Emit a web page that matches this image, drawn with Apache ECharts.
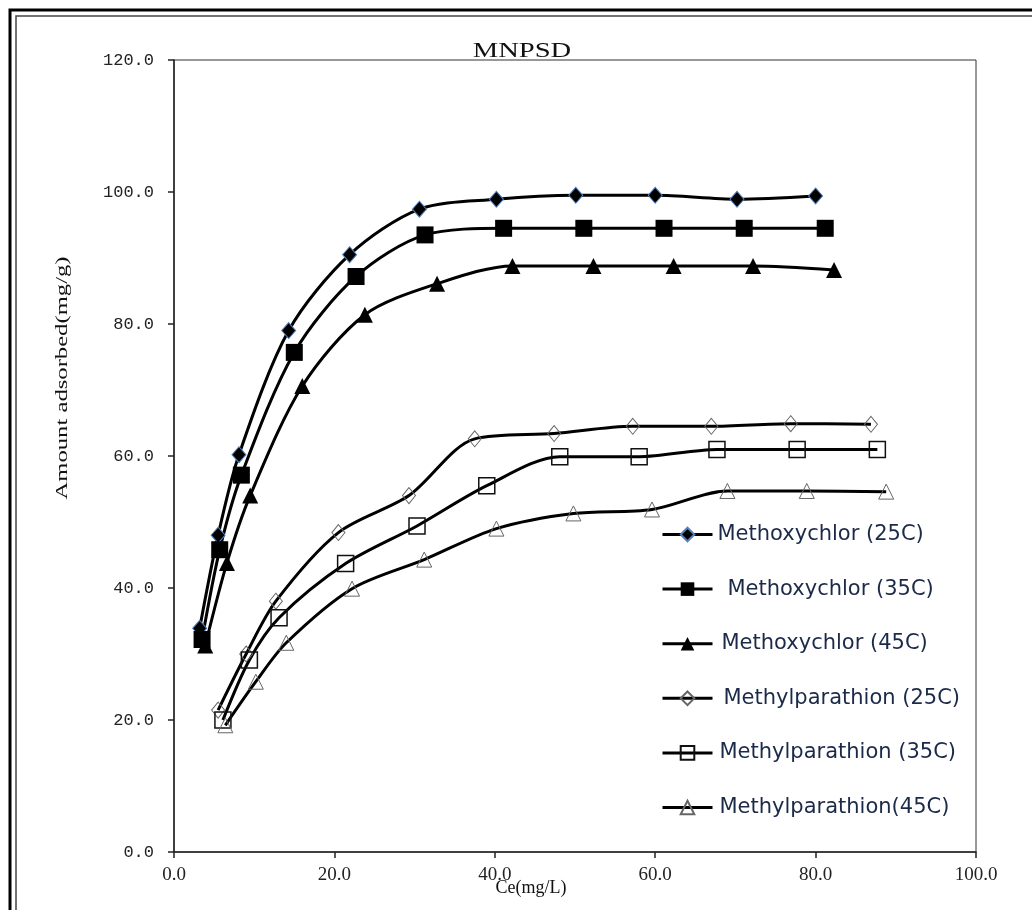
<!DOCTYPE html>
<html>
<head>
<meta charset="utf-8">
<script src="https://cdn.jsdelivr.net/npm/echarts@6/dist/echarts.min.js"></script>
<style>html,body{margin:0;padding:0;background:#fff}#c{width:1032px;height:910px}</style>
</head>
<body>
<div id="c"></div>
<script>
// ---- data (Ce mg/L, amount adsorbed mg/g) ----
const seriesNames = [
  'Methoxychlor (25C)', 'Methoxychlor (35C)', 'Methoxychlor (45C)',
  'Methylparathion (25C)', 'Methylparathion (35C)', 'Methylparathion(45C)'
];
const mx25x = [3.2, 5.5, 8.1, 14.3, 21.9, 30.6, 40.2, 50.1, 60.0, 70.2, 80.0];
const mx25y = [33.9, 48.0, 60.2, 79.0, 90.5, 97.4, 98.9, 99.5, 99.5, 98.9, 99.4];
const mx35x = [3.5, 5.7, 8.4, 15.0, 22.7, 31.3, 41.1, 51.1, 61.1, 71.1, 81.2];
const mx35y = [32.2, 45.8, 57.1, 75.7, 87.2, 93.5, 94.5, 94.5, 94.5, 94.5, 94.5];
const mx45x = [3.9, 6.6, 9.5, 16.0, 23.8, 32.8, 42.2, 52.3, 62.3, 72.2, 82.3];
const mx45y = [31.3, 43.8, 54.0, 70.6, 81.4, 86.1, 88.8, 88.8, 88.8, 88.8, 88.2];
const mp25x = [5.5, 9.0, 12.7, 20.5, 29.3, 37.5, 47.4, 57.2, 67.0, 76.9, 86.9];
const mp25y = [21.5, 30.0, 38.0, 48.4, 54.0, 62.6, 63.4, 64.5, 64.5, 64.9, 64.8];
const mp35x = [6.1, 9.4, 13.1, 21.4, 30.3, 39.0, 48.1, 58.0, 67.7, 77.7, 87.7];
const mp35y = [20.0, 29.1, 35.5, 43.7, 49.4, 55.5, 59.9, 59.9, 61.0, 61.0, 61.0];
const mp45x = [6.4, 10.2, 14.0, 22.2, 31.2, 40.2, 49.8, 59.6, 69.0, 78.9, 88.8];
const mp45y = [19.2, 25.8, 31.7, 39.9, 44.3, 49.0, 51.3, 51.9, 54.7, 54.7, 54.6];
const titleText = 'MNPSD';
const xName = 'Ce(mg/L)';
const yName = 'Amount adsorbed(mg/g)';

const pairs = (xs, ys) => xs.map((x, i) => [x, ys[i]]);
const data = [
  pairs(mx25x, mx25y), pairs(mx35x, mx35y), pairs(mx45x, mx45y),
  pairs(mp25x, mp25y), pairs(mp35x, mp35y), pairs(mp45x, mp45y)
];
const symbols = [
  {symbol: 'diamond', size: [14, 16], fill: '#000', stroke: '#4f81bd', bw: 1},
  {symbol: 'rect', size: 17, fill: '#000', stroke: '#000', bw: 0},
  {symbol: 'triangle', size: 16, fill: '#000', stroke: '#000', bw: 0},
  {symbol: 'diamond', size: [13, 16], fill: 'rgba(255,255,255,0)', stroke: '#666', bw: 1},
  {symbol: 'rect', size: 16, fill: 'rgba(255,255,255,0)', stroke: '#111', bw: 1.5},
  {symbol: 'triangle', size: 15, fill: 'rgba(255,255,255,0)', stroke: '#666', bw: 1}
];

const chart = echarts.init(document.getElementById('c'), null, {renderer: 'canvas'});
const legendPads = [0, 10, 4, 6, 2, 2];
chart.setOption({
  animation: false,
  backgroundColor: '#fff',
  grid: {left: 174, right: 56, top: 60, bottom: 58, show: true, borderColor: '#333', borderWidth: 1},
  xAxis: {
    type: 'value', min: 0, max: 100, interval: 20,
    axisLine: {lineStyle: {color: '#222', width: 1.5}},
    axisTick: {show: true, inside: false, length: 6, lineStyle: {color: '#222', width: 1.5}},
    splitLine: {show: false},
    axisLabel: {formatter: v => v.toFixed(1), color: '#222', fontFamily: 'Liberation Serif', fontSize: 19, margin: 14}
  },
  yAxis: {
    type: 'value', min: 0, max: 120, interval: 20,
    axisLine: {lineStyle: {color: '#222', width: 1.5}},
    axisTick: {show: true, inside: false, length: 6, lineStyle: {color: '#222', width: 1.5}},
    splitLine: {show: false},
    axisLabel: {formatter: v => v.toFixed(1), color: '#222', fontFamily: 'Liberation Mono', fontSize: 17, margin: 20}
  },
  legend: {
    orient: 'vertical', left: 656, top: 519,
    itemWidth: 50, itemHeight: 17, itemGap: 33.6,
    textStyle: {color: '#1b2a48', fontFamily: 'DejaVu Sans', fontSize: 21, lineHeight: 21},
    lineStyle: {width: 3},
    data: seriesNames.map((n, i) => ({name: n, textStyle: {padding: [0, 0, 0, legendPads[i]]}}))
  },
  series: seriesNames.map((n, i) => ({
    name: n, type: 'line', data: data[i], smooth: 0.3,
    symbol: symbols[i].symbol, symbolSize: symbols[i].size, showAllSymbol: true,
    lineStyle: {color: '#000', width: 3},
    itemStyle: {color: symbols[i].fill, borderColor: symbols[i].stroke, borderWidth: symbols[i].bw},
    emphasis: {disabled: true}
  })),
  graphic: [
    {type: 'rect', shape: {x: 10, y: 10, width: 1100, height: 1000}, style: {fill: 'none', stroke: '#000', lineWidth: 3}, silent: true},
    {type: 'rect', shape: {x: 16, y: 16, width: 1100, height: 1000}, style: {fill: 'none', stroke: '#444', lineWidth: 1.5}, silent: true},
    {type: 'text', x: 522, y: 51, scaleX: 1.3, style: {text: titleText, font: '22px "Liberation Serif"', fill: '#111', align: 'center', verticalAlign: 'middle'}, z: 10},
    {type: 'text', x: 531, y: 888, scaleX: 1.0, style: {text: xName, font: '18px "Liberation Serif"', fill: '#111', align: 'center', verticalAlign: 'middle'}},
    {type: 'text', x: 63, y: 378, rotation: Math.PI / 2, scaleX: 1.45, style: {text: yName, font: '17px "Liberation Serif"', fill: '#111', align: 'center', verticalAlign: 'middle'}}
  ]
});
</script>
</body>
</html>
